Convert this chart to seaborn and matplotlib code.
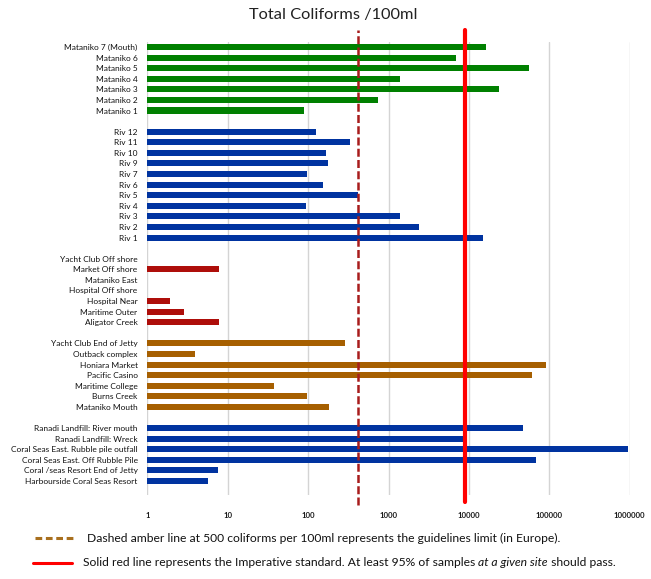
import matplotlib
matplotlib.use("Agg")
import matplotlib.pyplot as plt
from matplotlib.lines import Line2D
import numpy as np
import pandas as pd
import seaborn as sns

# ---- data ----
mataniko_sites = ["Mataniko 7 (Mouth)", "Mataniko 6", "Mataniko 5", "Mataniko 4",
                  "Mataniko 3", "Mataniko 2", "Mataniko 1"]
mataniko_vals = [16200, 6900, 56000, 1400, 24000, 740, 90]

riv_sites = ["Riv 12", "Riv 11", "Riv 10", "Riv 9", "Riv 7", "Riv 6", "Riv 5",
             "Riv 4", "Riv 3", "Riv 2", "Riv 1"]
riv_vals = [127, 330, 165, 178, 98, 154, 420, 93, 1380, 2370, 15100]

shore_sites = ["Yacht Club Off shore", "Market Off shore", "Mataniko East",
               "Hospital Off shore", "Hospital Near", "Maritime Outer", "Aligator Creek"]
shore_vals = [np.nan, 7.8, np.nan, np.nan, 1.9, 2.9, 7.8]

coast_sites = ["Yacht Club End of Jetty", "Outback complex", "Honiara Market",
               "Pacific Casino", "Maritime College", "Burns Creek", "Mataniko Mouth"]
coast_vals = [290, 3.9, 91000, 61500, 37.6, 98, 184]

east_sites = ["Ranadi Landfill: River mouth", "Ranadi Landfill: Wreck",
              "Coral Seas East. Rubble pile outfall", "Coral Seas East. Off Rubble Pile",
              "Coral /seas Resort End of Jetty", "Harbourside Coral Seas Resort"]
east_vals = [47000, 9100, 955000, 69000, 7.6, 5.7]

guideline_value = 415
imperative_value = 9000

x_ticks = [1, 10, 100, 1000, 10000, 100000, 1000000]
x_tick_labels = ["1", "10", "100", "1000", "10000", "100000", "1000000"]

title = "Total Coliforms /100ml"
legend_text_1 = "Dashed amber line at 500 coliforms per 100ml represents the guidelines limit (in Europe)."
legend_text_2a = "Solid red line represents the Imperative standard. At least 95% of samples "
legend_text_2b = "at a given site"
legend_text_2c = " should pass."

# ---- build table ----
groups = [("g1", mataniko_sites, mataniko_vals),
          ("g2", riv_sites, riv_vals),
          ("g3", shore_sites, shore_vals),
          ("g4", coast_sites, coast_vals),
          ("g5", east_sites, east_vals)]
palette = {"g1": "#008000", "g2": "#0033A0", "g3": "#AE0E0A",
           "g4": "#A65F00", "g5": "#0033A0"}

rows = []
order = []
labels = []
for i, (g, sites, vals) in enumerate(groups):
    if i > 0:
        order.append(f"__gap{i}")
        labels.append("")
    for s, v in zip(sites, vals):
        key = f"{g}:{s}"
        order.append(key)
        labels.append(s)
        rows.append({"site": key, "value": v, "group": g})
df = pd.DataFrame(rows).dropna()

# ---- plot ----
sns.set_style("white")
plt.rcParams["font.family"] = ["Lato", "DejaVu Sans"]

fig = plt.figure(figsize=(6.51, 5.79), dpi=100)
ax = fig.add_axes([147.3 / 651, 1 - 495 / 579, (629.7 - 147.3) / 651, (495 - 41.7) / 579])

sns.barplot(data=df, x="value", y="site", hue="group", order=order,
            palette=palette, dodge=False, width=0.57, legend=False,
            orient="h", ax=ax, saturation=1, linewidth=0)

ax.set_xscale("log")
ax.set_xlim(1, 1e6)
ax.set_ylim(len(order) - 1 + 1.32, -0.5)
ax.set_xticks(x_ticks)
ax.set_xticklabels(x_tick_labels, fontsize=5.6, fontweight="bold", color="#1a1a1a")
ax.xaxis.set_minor_locator(matplotlib.ticker.NullLocator())
ax.set_yticks(range(len(order)))
ax.set_yticklabels(labels, fontsize=6.0, color="#111111")
ax.tick_params(axis="x", length=0, pad=12)
ax.tick_params(axis="y", length=0, pad=7)
ax.set_xlabel("")
ax.set_ylabel("")
for sp in ax.spines.values():
    sp.set_visible(False)
ax.grid(axis="x", color="#d4d4d4", linewidth=1.0)
ax.grid(axis="y", visible=False)
ax.set_axisbelow(True)

# reference lines
ax.axvline(guideline_value, ymin=-0.022, ymax=1.026, color="#A81C1C",
           linewidth=1.8, linestyle=(0, (3.2, 1.3)), clip_on=False, zorder=5)
ax.axvline(imperative_value, ymin=-0.016, ymax=1.026, color="#FF0000",
           linewidth=3.0, clip_on=False, zorder=5)

# title
fig.text(333 / 651, 1 - 15 / 579, title, ha="center", va="center",
         fontsize=11.8, color="#222222")

# legend (figure-level)
fs = 8.7
fig.add_artist(Line2D([35 / 651, 74 / 651], [1 - 538 / 579] * 2, color="#A86F1E",
                      linewidth=2.2, linestyle=(0, (2.2, 1.2))))
fig.text(87 / 651, 1 - 538 / 579, legend_text_1, ha="left", va="center",
         fontsize=fs, color="#111111")
fig.add_artist(Line2D([33 / 651, 72 / 651], [1 - 563 / 579] * 2, color="#FF0000",
                      linewidth=2.2))
t1 = fig.text(83 / 651, 1 - 563 / 579, legend_text_2a, ha="left", va="center",
              fontsize=fs, color="#111111")
fig.canvas.draw()
r = fig.canvas.get_renderer()
bb = t1.get_window_extent(r)
t2 = fig.text(bb.x1 / fig.bbox.width, 1 - 563 / 579, legend_text_2b, ha="left",
              va="center", fontsize=fs, style="italic", color="#111111")
bb2 = t2.get_window_extent(r)
fig.text(bb2.x1 / fig.bbox.width, 1 - 563 / 579, legend_text_2c, ha="left",
         va="center", fontsize=fs, color="#111111")

fig.savefig("out.png", dpi=100)
